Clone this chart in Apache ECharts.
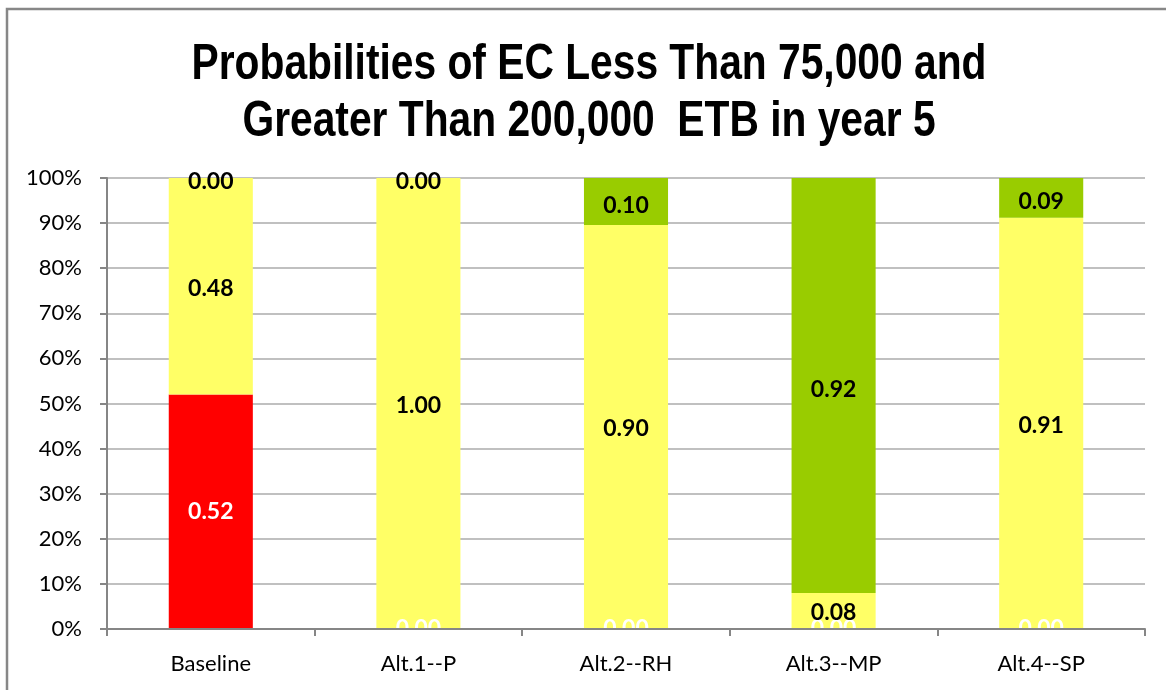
<!DOCTYPE html>
<html>
<head>
<meta charset="utf-8">
<script src="https://cdn.jsdelivr.net/npm/echarts@6/dist/echarts.min.js"></script>
<style>html,body{margin:0;padding:0;background:#fff}#c{width:1166px;height:690px}</style>
</head>
<body>
<div id="c"></div>
<script>
const titleLines = ['Probabilities of EC Less Than 75,000 and', 'Greater Than 200,000  ETB in year 5'];
const categories = ['Baseline', 'Alt.1--P', 'Alt.2--RH', 'Alt.3--MP', 'Alt.4--SP'];
const lessThan75k = [0.52, 0.00, 0.00, 0.00, 0.00];
const between = [0.48, 1.00, 0.896, 0.08, 0.912];
const greaterThan200k = [0.00, 0.00, 0.104, 0.92, 0.088];

const chart = echarts.init(document.getElementById('c'), null, {renderer: 'canvas'});
const F = 'Lato, "Open Sans", sans-serif';
const TF = '"Liberation Sans", Arial, sans-serif';
function lbl(color, offset) {
  return {
    show: true, position: 'inside', color: color, fontFamily: F, fontWeight: 'bold', fontSize: 23,
    offset: offset || [0, 0],
    formatter: p => p.value.toFixed(2)
  };
}
const titleY = [65, 122];
chart.setOption({
  animation: false,
  backgroundColor: '#fff',
  graphic: [{
    type: 'rect', shape: {x: 7, y: 9, width: 1200, height: 720},
    style: {fill: 'none', stroke: '#878787', lineWidth: 2.5}, silent: true, z: -1
  }].concat(titleLines.map((t, i) => ({
    type: 'text', x: 589, y: titleY[i], scaleX: 0.815, silent: true,
    style: {text: t, x: 0, y: 0, align: 'center', verticalAlign: 'middle',
      font: 'bold 50px ' + TF, fill: '#000'}
  }))),
  grid: {left: 107, right: 21, top: 178, bottom: 61, containLabel: false},
  xAxis: {
    type: 'category', data: categories, z: 10,
    axisLine: {lineStyle: {color: '#868686', width: 2}},
    axisTick: {show: true, length: 7, lineStyle: {color: '#868686', width: 2}},
    axisLabel: {color: '#000', fontFamily: F, fontSize: 22, margin: 24}
  },
  yAxis: {
    type: 'value', min: 0, max: 1, interval: 0.1,
    axisLine: {show: true, lineStyle: {color: '#868686', width: 2}},
    axisTick: {show: true, length: 7, lineStyle: {color: '#868686', width: 2}},
    splitLine: {lineStyle: {color: '#c0c0c0', width: 2}},
    axisLabel: {color: '#000', fontFamily: F, fontSize: 22, margin: 25,
      formatter: v => Math.round(v * 100) + '%'}
  },
  series: [
    {name: 'Less than 75,000', type: 'bar', stack: 's', data: lessThan75k, barWidth: '40.5%',
      itemStyle: {color: '#FF0000'}, label: lbl('#fff')},
    {name: 'Between', type: 'bar', stack: 's', data: between,
      itemStyle: {color: '#FFFF66'}, label: lbl('#000', [0, 2])},
    {name: 'Greater than 200,000', type: 'bar', stack: 's', data: greaterThan200k,
      itemStyle: {color: '#99CC00'}, label: lbl('#000', [0, 4])}
  ]
});
</script>
</body>
</html>
